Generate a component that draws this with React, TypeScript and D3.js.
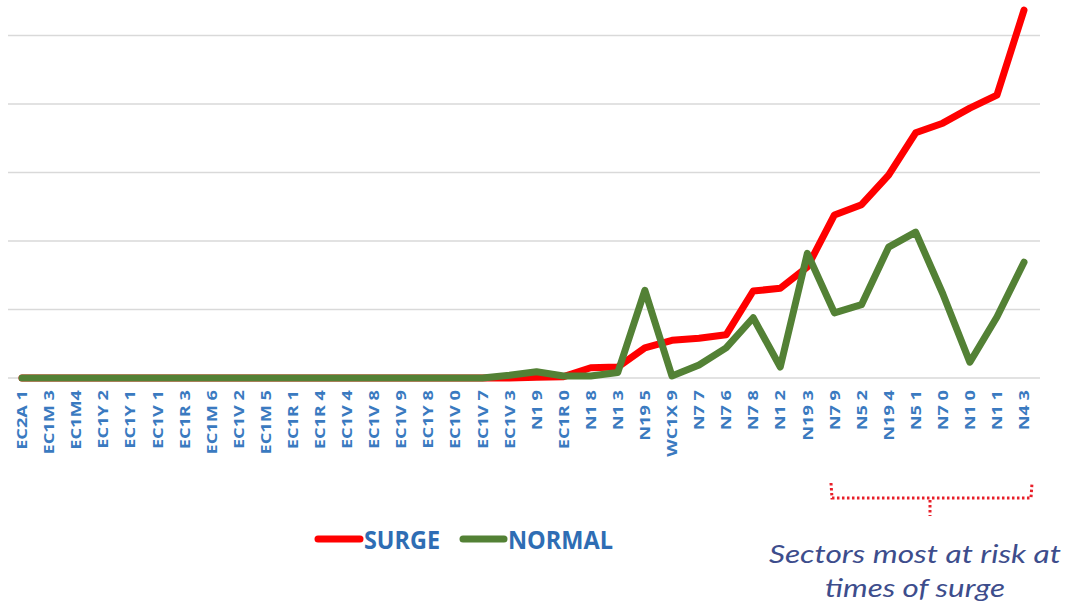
import React, { useEffect, useRef } from 'react';
import * as d3 from 'd3';

// sector codes along the x axis
const sectors = [
  'EC2A 1', 'EC1M 3', 'EC1M4', 'EC1Y 2', 'EC1Y 1', 'EC1V 1', 'EC1R 3', 'EC1M 6',
  'EC1V 2', 'EC1M 5', 'EC1R 1', 'EC1R 4', 'EC1V 4', 'EC1V 8', 'EC1V 9', 'EC1Y 8',
  'EC1V 0', 'EC1V 7', 'EC1V 3', 'N1 9', 'EC1R 0', 'N1 8', 'N1 3', 'N19 5',
  'WC1X 9', 'N7 7', 'N7 6', 'N7 8', 'N1 2', 'N19 3', 'N7 9', 'N5 2',
  'N19 4', 'N5 1', 'N7 0', 'N1 0', 'N1 1', 'N4 3',
];

const surge = [
  0, 0, 0, 0, 0, 0, 0, 0, 0, 0, 0, 0, 0, 0, 0, 0, 0, 0, 0, 0.01,
  0.02, 0.15, 0.16, 0.44, 0.55, 0.58, 0.63, 1.27, 1.31, 1.62,
  2.38, 2.53, 2.96, 3.58, 3.72, 3.94, 4.13, 5.37,
];

const normal = [
  0, 0, 0, 0, 0, 0, 0, 0, 0, 0, 0, 0, 0, 0, 0, 0, 0, 0, 0.04, 0.09,
  0.03, 0.03, 0.08, 1.28, 0.03, 0.19, 0.44, 0.88, 0.16, 1.82,
  0.95, 1.07, 1.91, 2.13, 1.23, 0.23, 0.89, 1.69,
];

const gridTicks = [0, 1, 2, 3, 4, 5];

const App = () => {
  const ref = useRef<SVGSVGElement>(null);

  useEffect(() => {
    const svg = d3.select(ref.current);
    svg.selectAll('*').remove();

    const x = d3.scalePoint<string>()
      .domain(sectors)
      .range([22, 1024]);

    const y = d3.scaleLinear()
      .domain([0, 5])
      .range([378, 35.5]);

    // gridlines
    svg.append('g')
      .selectAll('line')
      .data(gridTicks)
      .enter()
      .append('line')
      .attr('x1', 8)
      .attr('x2', 1040)
      .attr('y1', d => y(d))
      .attr('y2', d => y(d))
      .attr('stroke', '#d9d9d9')
      .attr('stroke-width', 1.5);

    // category labels, rotated
    svg.append('g')
      .selectAll('g')
      .data(sectors)
      .enter()
      .append('g')
      .attr('transform', d => `translate(${x(d)},390) scale(1,1.3) rotate(-90)`)
      .append('text')
      .attr('text-anchor', 'end')
      .attr('dominant-baseline', 'central')
      .attr('font-family', 'Open Sans, sans-serif')
      .attr('font-weight', 700)
      .attr('font-size', 14)
      .attr('fill', '#3a7ac0')
      .text(d => d);

    const line = d3.line<number>()
      .x((d, i) => x(sectors[i]) as number)
      .y(d => y(d));

    svg.append('path')
      .datum(surge)
      .attr('d', line)
      .attr('fill', 'none')
      .attr('stroke', '#ff0000')
      .attr('stroke-width', 7)
      .attr('stroke-linejoin', 'round')
      .attr('stroke-linecap', 'round');

    svg.append('path')
      .datum(normal)
      .attr('d', line)
      .attr('fill', 'none')
      .attr('stroke', '#538135')
      .attr('stroke-width', 7)
      .attr('stroke-linejoin', 'round')
      .attr('stroke-linecap', 'round');

    // legend
    const legend = [
      { name: 'SURGE', color: '#ff0000', x0: 318, tx: 364, w: 76 },
      { name: 'NORMAL', color: '#538135', x0: 463, tx: 508, w: 105 },
    ];
    const lg = svg.append('g');
    legend.forEach(l => {
      lg.append('line')
        .attr('x1', l.x0)
        .attr('x2', l.tx - 4)
        .attr('y1', 539)
        .attr('y2', 539)
        .attr('stroke', l.color)
        .attr('stroke-width', 7)
        .attr('stroke-linecap', 'round');
      lg.append('text')
        .attr('x', l.tx)
        .attr('y', 549)
        .attr('font-family', 'Open Sans, sans-serif')
        .attr('font-weight', 700)
        .attr('font-size', 25)
        .attr('textLength', l.w)
        .attr('lengthAdjust', 'spacingAndGlyphs')
        .attr('fill', '#2e6db4')
        .text(l.name);
    });

    // bracket for at-risk sectors
    const br = svg.append('g')
      .attr('fill', 'none')
      .attr('stroke', '#e8202a')
      .attr('stroke-width', 3)
      .attr('stroke-dasharray', '2.5,2.5');
    br.append('path')
      .attr('d', 'M831,483 L832,498 L1031,498 L1032,483');
    br.append('line')
      .attr('x1', 930).attr('x2', 930)
      .attr('y1', 500).attr('y2', 516);

    const note = svg.append('g')
      .attr('font-family', 'Lato, sans-serif')
      .attr('font-style', 'italic')
      .attr('font-size', 25)
      .attr('fill', '#3d4d8c');
    note.append('text')
      .attr('x', 769)
      .attr('y', 563)
      .attr('textLength', 292)
      .attr('lengthAdjust', 'spacingAndGlyphs')
      .text('Sectors most at risk at');
    note.append('text')
      .attr('x', 825)
      .attr('y', 597)
      .attr('textLength', 180)
      .attr('lengthAdjust', 'spacingAndGlyphs')
      .text('times of surge');
  }, []);

  return (
    <svg
      ref={ref}
      width={1065}
      height={607}
      style={{ position: 'absolute', left: 0, top: 0, background: '#fff' }}
    />
  );
};

export default App;
